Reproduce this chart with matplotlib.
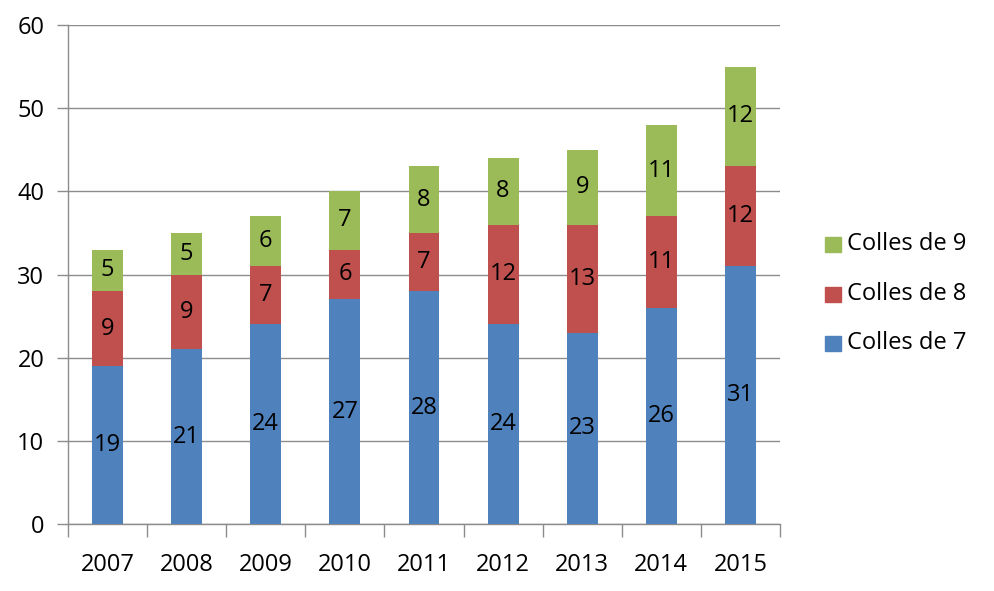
import matplotlib
matplotlib.use("Agg")
import matplotlib.pyplot as plt
import numpy as np
from matplotlib.patches import Rectangle

years = ["2007", "2008", "2009", "2010", "2011", "2012", "2013", "2014", "2015"]
colles7 = [19, 21, 24, 27, 28, 24, 23, 26, 31]
colles8 = [9, 9, 7, 6, 7, 12, 13, 11, 12]
colles9 = [5, 5, 6, 7, 8, 8, 9, 11, 12]
series_names = ["Colles de 7", "Colles de 8", "Colles de 9"]
colors = ["#4F81BD", "#C0504D", "#9BBB59"]

plt.rcParams['font.family'] = ['Open Sans', 'DejaVu Sans']
FS = 17

W, H = 994, 591
fig = plt.figure(figsize=(W / 100, H / 100), dpi=100)
ax = fig.add_axes([68 / W, 1 - 524 / H, (780 - 68) / W, (524 - 25) / H])

x = np.arange(len(years))
bottom = np.zeros(len(years))
for vals, name, c in zip([colles7, colles8, colles9], series_names, colors):
    ax.bar(x, vals, 0.39, bottom=bottom, color=c, label=name, zorder=3)
    for xi, v, bt in zip(x, vals, bottom):
        ax.text(xi, bt + v / 2, str(v), ha='center', va='center', fontsize=FS,
                color='black', zorder=4)
    bottom = bottom + np.array(vals)

ax.set_xlim(-0.5, len(years) - 0.5)
ax.set_ylim(0, 60)
ax.set_yticks(range(0, 61, 10))
ax.yaxis.grid(True, color='#8c8c8c', linewidth=1.0, zorder=0)
ax.set_axisbelow(True)
for s in ['top', 'right']:
    ax.spines[s].set_visible(False)
for s in ['left', 'bottom']:
    ax.spines[s].set_color('#8c8c8c')
    ax.spines[s].set_linewidth(1.0)

ax.set_xticks(x)
ax.set_xticklabels(years)
ax.tick_params(axis='x', length=0, pad=21, labelsize=FS)
ax.set_xticks(np.arange(-0.5, len(years), 1.0), minor=True)
ax.tick_params(axis='x', which='minor', length=9, color='#8c8c8c', width=1.0)
ax.tick_params(axis='y', length=8, color='#8c8c8c', width=1.0, labelsize=FS, pad=9)

# legend (manual placement, top entry = last series)
leg_rows_y = [244, 294, 343]
for (name, c), yy in zip(list(zip(series_names, colors))[::-1], leg_rows_y):
    fig.patches.append(Rectangle((825 / W, 1 - (yy + 7.5) / H), 16 / W, 15 / H,
                                 transform=fig.transFigure, color=c, figure=fig))
    fig.text(847 / W, 1 - yy / H, name, ha='left', va='center', fontsize=FS)

fig.savefig("out.png", dpi=100)
